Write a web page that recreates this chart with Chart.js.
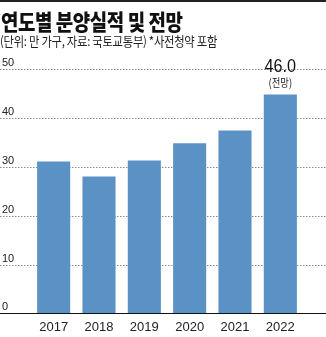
<!DOCTYPE html>
<html><head><meta charset="utf-8">
<script src="https://cdn.jsdelivr.net/npm/chart.js@4/dist/chart.umd.min.js"></script>
<style>
html,body{margin:0;padding:0;background:#fff;width:326px;height:337px;overflow:hidden;}
#wrap{position:relative;width:326px;height:337px;}
#topline{position:absolute;left:0;top:0;width:326px;height:2px;background:#222;}
#title{position:absolute;left:1px;top:4px;white-space:nowrap;font-family:"Noto Sans CJK KR";font-weight:900;font-size:22px;color:#111;transform:scaleX(0.86);transform-origin:left top;letter-spacing:-0.5px;}
#sub{position:absolute;left:0px;top:31px;white-space:nowrap;font-family:"Noto Sans CJK KR";font-size:13px;color:#222;transform:scaleX(0.87);transform-origin:left top;letter-spacing:-0.3px;}
canvas{position:absolute;left:0;top:0;}
</style></head>
<body><div id="wrap">
<canvas id="c" width="326" height="337"></canvas>
<div id="topline"></div>
<div id="title">연도별 분양실적 및 전망</div>
<div id="sub">(단위: 만 가구, 자료: 국토교통부) *사전청약 포함</div>
</div>
<script>
const years = ["2017","2018","2019","2020","2021","2022"];
const supply = [31.1, 28.0, 31.3, 34.8, 37.4, 44.8];
const yTicks = [0, 10, 20, 30, 40, 50];
const lastLabel = "46.0";
const lastNote = "(전망)";

const NUM_FONT = '"Liberation Sans",Arial,sans-serif';

const fullGrid = {
  id: 'fullGrid',
  beforeDatasetsDraw(chart) {
    const ctx = chart.ctx, y = chart.scales.y, W = chart.width;
    ctx.save();
    yTicks.forEach(v => {
      const py = Math.round(y.getPixelForValue(v)) + 0.5;
      if (v !== 0) {
        ctx.strokeStyle = '#8a8a8a';
        ctx.lineWidth = 1;
        ctx.setLineDash([1.5, 1.5]);
        ctx.beginPath(); ctx.moveTo(0, py); ctx.lineTo(W, py); ctx.stroke();
      }
      ctx.setLineDash([]);
      ctx.fillStyle = '#222';
      ctx.font = '11px ' + NUM_FONT;
      ctx.textAlign = 'left'; ctx.textBaseline = 'bottom';
      ctx.fillText(String(v), 2, py - 1);
    });
    ctx.restore();
  },
  afterDatasetsDraw(chart) {
    const ctx = chart.ctx, y = chart.scales.y, W = chart.width;
    ctx.save();
    const py = Math.round(y.getPixelForValue(0)) + 0.5;
    ctx.strokeStyle = '#111'; ctx.lineWidth = 1.2;
    ctx.beginPath(); ctx.moveTo(0, py); ctx.lineTo(W, py); ctx.stroke();
    const meta = chart.getDatasetMeta(0);
    const bar = meta.data[meta.data.length - 1];
    ctx.fillStyle = '#111';
    ctx.textAlign = 'center'; ctx.textBaseline = 'middle';
    ctx.save();
    ctx.translate(bar.x, 67); ctx.scale(0.9, 1);
    ctx.font = '18px ' + NUM_FONT;
    ctx.fillText(lastLabel, 0, 0);
    ctx.restore();
    ctx.font = '11px "Noto Sans CJK KR"';
    ctx.fillStyle = '#222';
    ctx.save();
    ctx.translate(bar.x, 83); ctx.scale(0.85, 1);
    ctx.fillText(lastNote, 0, 0);
    ctx.restore();
    ctx.restore();
  }
};

new Chart(document.getElementById('c'), {
  type: 'bar',
  data: { labels: years, datasets: [{ data: supply, backgroundColor: '#5a92c6', borderWidth: 0, barPercentage: 0.73, categoryPercentage: 1 }] },
  options: {
    responsive: false, animation: false,
    layout: { padding: { top: 69, left: 31, right: 23, bottom: -4 } },
    plugins: { legend: { display: false }, tooltip: { enabled: false } },
    scales: {
      y: { display: false, min: 0, max: 50 },
      x: { grid: { display: false, drawTicks: false }, border: { display: false },
           ticks: { padding: 6, color: '#222', font: { family: NUM_FONT, size: 13 } } }
    }
  },
  plugins: [fullGrid]
});
</script>
</body></html>
